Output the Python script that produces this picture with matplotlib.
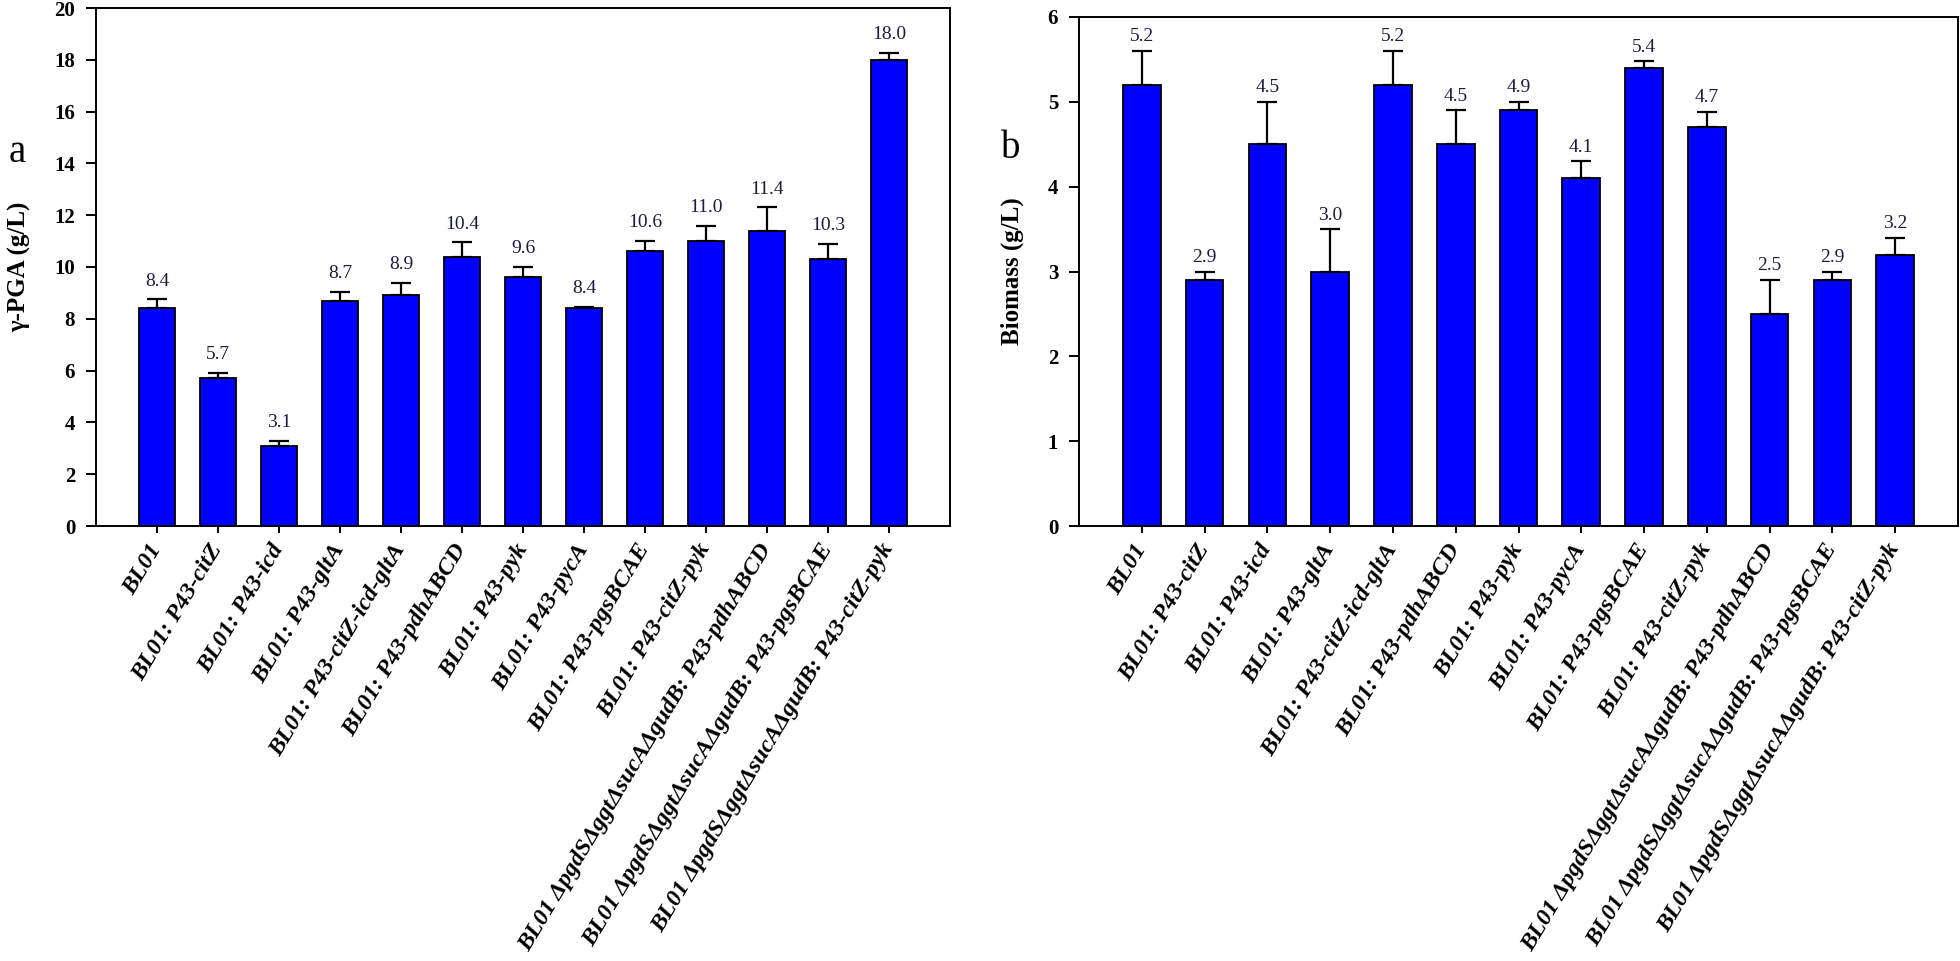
import matplotlib
matplotlib.use("Agg")
import matplotlib.pyplot as plt
import numpy as np

strains = [
    "BL01",
    "BL01: P43-citZ",
    "BL01: P43-icd",
    "BL01: P43-gltA",
    "BL01: P43-citZ-icd-gltA",
    "BL01: P43-pdhABCD",
    "BL01: P43-pyk",
    "BL01: P43-pycA",
    "BL01: P43-pgsBCAE",
    "BL01: P43-citZ-pyk",
    "BL01 ΔpgdSΔggtΔsucAΔgudB: P43-pdhABCD",
    "BL01 ΔpgdSΔggtΔsucAΔgudB: P43-pgsBCAE",
    "BL01 ΔpgdSΔggtΔsucAΔgudB: P43-citZ-pyk",
]

pga = [8.4, 5.7, 3.1, 8.7, 8.9, 10.4, 9.6, 8.4, 10.6, 11.0, 11.4, 10.3, 18.0]
pga_err = [0.35, 0.2, 0.2, 0.33, 0.5, 0.55, 0.4, 0.05, 0.4, 0.6, 0.9, 0.58, 0.26]

biomass = [5.2, 2.9, 4.5, 3.0, 5.2, 4.5, 4.9, 4.1, 5.4, 4.7, 2.5, 2.9, 3.2]
biomass_err = [0.4, 0.1, 0.5, 0.5, 0.4, 0.4, 0.1, 0.2, 0.08, 0.18, 0.4, 0.1, 0.2]

W, H = 1960, 961
fig = plt.figure(figsize=(W / 100, H / 100), dpi=100)

serif = ["Liberation Serif", "DejaVu Serif"]
plt.rcParams["font.family"] = serif


def panel(rect, vals, errs, ymax, ystep, ylabel, ylab_x, letter, letter_xy, off):
    ax = fig.add_axes(rect)
    x = np.arange(len(vals))
    ax.bar(x, vals, width=0.6, color="#0000FF", edgecolor="black", linewidth=1.3, zorder=2)
    ax.errorbar(x, vals, yerr=[np.zeros(len(errs)), errs], fmt="none", ecolor="black",
                elinewidth=1.6, capsize=7, capthick=1.6, zorder=3)
    for xi, v, e in zip(x, vals, errs):
        ax.annotate(f"{v:.1f}", (xi, v + e), xytext=(0, off), textcoords="offset points",
                    ha="center", va="bottom", fontsize=14, color="#1c1c3c",
                    family=serif)
    ax.set_xlim(-1.0, len(vals))
    ax.set_ylim(0, ymax)
    ticks = np.arange(0, ymax + 0.001, ystep)
    ax.set_yticks(ticks)
    ax.set_yticklabels([f"{t:g}" for t in ticks],
                       fontsize=15, fontweight="bold", family=serif)
    ax.set_xticks(x)
    ax.set_xticklabels(strains, rotation=59, ha="right", va="center", rotation_mode="anchor",
                       fontsize=17.5, fontweight="bold", fontstyle="italic", family=serif)
    ax.tick_params(axis="y", direction="out", length=7, width=1.4, pad=8)
    ax.tick_params(axis="x", direction="out", length=5, width=1.4, pad=9)
    for s in ax.spines.values():
        s.set_linewidth(1.4)
    fig.text(ylab_x, rect[1] + rect[3] / 2, ylabel, rotation=90, ha="center", va="center",
             fontsize=18, fontweight="bold", family=serif)
    fig.text(letter_xy[0], letter_xy[1], letter, ha="center", va="center", fontsize=28,
             family=serif)
    return ax


panel([96 / W, 1 - 526 / H, (950 - 96) / W, (526 - 8) / H], pga, pga_err, 20, 2,
      "γ-PGA (g/L)", 20 / W, "a", (17 / W, 1 - 152 / H), 7)
panel([1079 / W, 1 - 526 / H, (1958 - 1079) / W, (526 - 17) / H], biomass, biomass_err, 6, 1,
      "Biomass (g/L)", 1012 / W, "b", (1011 / W, 1 - 148 / H), 4)

fig.savefig("out.png", dpi=100)
